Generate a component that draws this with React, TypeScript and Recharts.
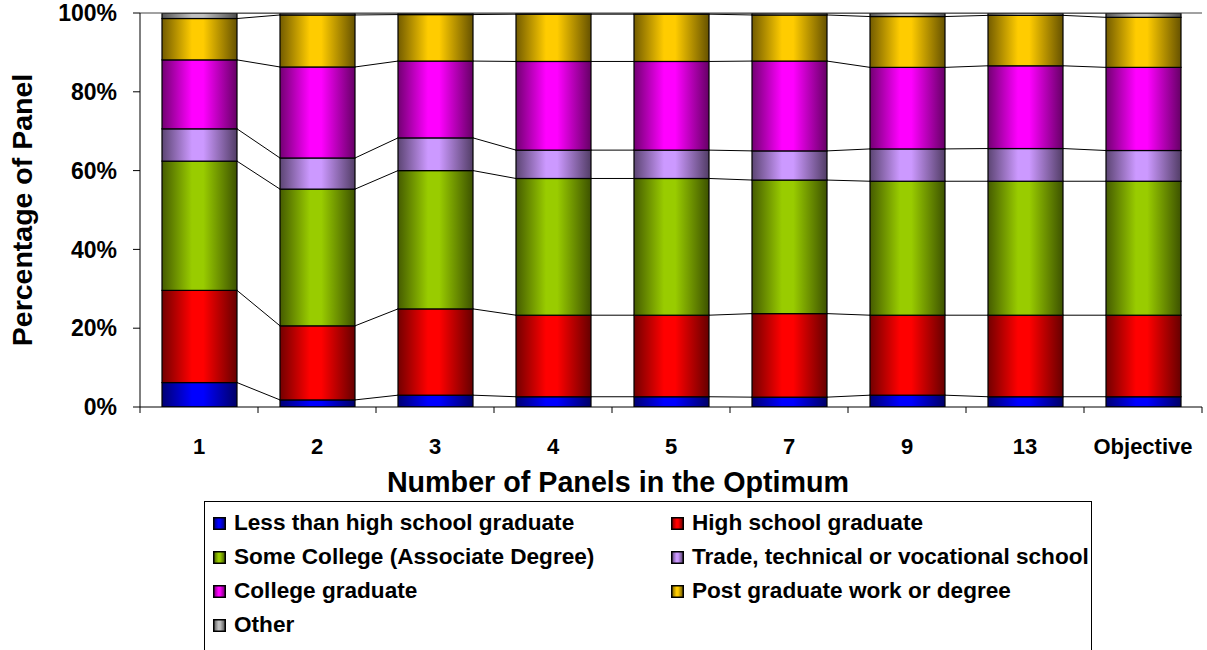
import React from "react";
import { BarChart, Bar, XAxis, YAxis, Legend, ReferenceLine, Label } from "recharts";

const categories = ["1", "2", "3", "4", "5", "7", "9", "13", "Objective"];

const lessThanHighSchool = [6.2, 1.8, 3.0, 2.6, 2.6, 2.5, 3.0, 2.6, 2.6];
const highSchoolGraduate = [23.4, 18.8, 21.9, 20.7, 20.7, 21.2, 20.3, 20.7, 20.7];
const someCollege = [32.8, 34.7, 35.1, 34.7, 34.7, 33.9, 34.0, 34.0, 34.0];
const tradeSchool = [8.2, 7.9, 8.3, 7.2, 7.2, 7.4, 8.2, 8.3, 7.8];
const collegeGraduate = [17.5, 23.1, 19.5, 22.5, 22.5, 22.8, 20.7, 21.0, 21.1];
const postGraduate = [10.5, 13.2, 11.8, 12.0, 12.0, 11.7, 12.9, 12.8, 12.7];
const other = [1.4, 0.5, 0.4, 0.3, 0.3, 0.5, 0.9, 0.6, 1.1];

const seriesNames = [
  "Less than high school graduate",
  "High school graduate",
  "Some College (Associate Degree)",
  "Trade, technical or vocational school",
  "College graduate",
  "Post graduate work or degree",
  "Other",
];
const seriesValues = [
  lessThanHighSchool,
  highSchoolGraduate,
  someCollege,
  tradeSchool,
  collegeGraduate,
  postGraduate,
  other,
];
const seriesColors = ["#0000FF", "#FF0000", "#99CC00", "#CC99FF", "#FF00FF", "#FFCC00", "#C0C0C0"];
const yTicks = [0, 20, 40, 60, 80, 100];

const FONT = "'Liberation Sans', Arial, sans-serif";
const CHART_W = 1207;
const CHART_H = 650;
const MARGIN = { top: 13, right: 5, bottom: 0, left: 0 };
const Y_AXIS_W = 140;
const LEGEND_H = 152;
const X_AXIS_H = 91;
const BAND = (CHART_W - MARGIN.left - MARGIN.right - Y_AXIS_W) / categories.length;
const PLOT_H = CHART_H - MARGIN.top - MARGIN.bottom - LEGEND_H - X_AXIS_H;

const data = categories.map((name, i) => {
  const row: Record<string, number | string> = { name };
  seriesValues.forEach((vals, s) => {
    row[`s${s}`] = vals[i];
  });
  return row;
});

// running totals, used for the connector lines between bars
const cumTops = seriesValues.map((_, s) =>
  categories.map((_, i) => seriesValues.slice(0, s + 1).reduce((a, v) => a + v[i], 0)),
);

const shade = (hex: string, f: number) => {
  const n = parseInt(hex.slice(1), 16);
  const c = [(n >> 16) & 255, (n >> 8) & 255, n & 255].map((v) => Math.round(v * f));
  return `rgb(${c[0]},${c[1]},${c[2]})`;
};

const makeShape = (s: number) => (props: any) => {
  const { x, y, width, height, background } = props;
  let i = props.index;
  if (typeof i !== "number") i = categories.indexOf(props.payload?.name);
  const top = background?.y ?? MARGIN.top;
  const ph = background?.height ?? PLOT_H;
  const toY = (v: number) => top + ph * (1 - v / 100);
  const hasNext = i >= 0 && i + 1 < categories.length;
  return (
    <g>
      <rect
        x={x}
        y={y}
        width={width}
        height={Math.max(height, 0)}
        fill={`url(#grad${s})`}
        stroke="#000"
        strokeWidth={1.2}
      />
      {hasNext && (
        <line
          x1={x + width}
          y1={toY(cumTops[s][i])}
          x2={x + BAND}
          y2={toY(cumTops[s][i + 1])}
          stroke="#000"
          strokeWidth={1}
        />
      )}
    </g>
  );
};

const CategoryTick = (props: any) => {
  const { x, y, payload, index } = props;
  const half = BAND / 2;
  return (
    <g>
      <line x1={x - half} y1={y} x2={x - half} y2={y + 6} stroke="#000" />
      {index === categories.length - 1 && (
        <line x1={x + half} y1={y} x2={x + half} y2={y + 6} stroke="#000" />
      )}
      <text
        x={x}
        y={y + 47}
        textAnchor="middle"
        fontFamily={FONT}
        fontWeight="bold"
        fontSize={22}
        fill="#000"
      >
        {payload.value}
      </text>
    </g>
  );
};

const XTitle = (props: any) => {
  const vb = props.viewBox;
  return (
    <text
      x={vb.x + vb.width / 2 - 53}
      y={vb.y + 85}
      textAnchor="middle"
      fontFamily={FONT}
      fontWeight="bold"
      fontSize={28.7}
      fill="#000"
    >
      Number of Panels in the Optimum
    </text>
  );
};

const YTitle = (props: any) => {
  const vb = props.viewBox;
  const cx = 32;
  const cy = vb.y + vb.height / 2;
  return (
    <text
      x={cx}
      y={cy}
      transform={`rotate(-90 ${cx} ${cy})`}
      textAnchor="middle"
      fontFamily={FONT}
      fontWeight="bold"
      fontSize={28.5}
      fill="#000"
    >
      Percentage of Panel
    </text>
  );
};

const LegendBox = () => (
  <div
    style={{
      boxSizing: "border-box",
      width: 888,
      height: LEGEND_H,
      border: "1px solid #000",
      position: "relative",
      fontFamily: FONT,
      fontWeight: "bold",
      fontSize: 22.6,
      color: "#000",
      background: "#fff",
    }}
  >
    {seriesNames.map((n, s) => {
      const col = s % 2;
      const row = Math.floor(s / 2);
      return (
        <div
          key={n}
          style={{
            position: "absolute",
            left: 8 + col * 458,
            top: 7 + row * 34,
            height: 28,
            display: "flex",
            alignItems: "center",
            whiteSpace: "nowrap",
          }}
        >
          <svg width={13} height={13} style={{ display: "block" }}>
            <rect
              x={0.75}
              y={0.75}
              width={11.5}
              height={11.5}
              fill={`url(#grad${s})`}
              stroke="#000"
              strokeWidth={1.5}
            />
          </svg>
          <span style={{ marginLeft: 8 }}>{n}</span>
        </div>
      );
    })}
  </div>
);

export default function App() {
  return (
    <div
      style={{
        position: "absolute",
        left: 0,
        top: 0,
        width: CHART_W,
        height: CHART_H,
        overflow: "hidden",
        background: "#fff",
      }}
    >
      <BarChart width={CHART_W} height={CHART_H} data={data} margin={MARGIN} barSize={75}>
        <defs>
          {seriesColors.map((c, s) => (
            <linearGradient key={s} id={`grad${s}`} x1="0" y1="0" x2="1" y2="0">
              <stop offset="0%" stopColor={shade(c, 0.45)} />
              <stop offset="40%" stopColor={c} />
              <stop offset="55%" stopColor={c} />
              <stop offset="100%" stopColor={shade(c, 0.4)} />
            </linearGradient>
          ))}
        </defs>
        <XAxis
          dataKey="name"
          interval={0}
          height={X_AXIS_H}
          tickLine={false}
          tickSize={0}
          tickMargin={0}
          tick={<CategoryTick />}
          axisLine={{ stroke: "#000" }}
        >
          <Label content={<XTitle />} />
        </XAxis>
        <YAxis
          width={Y_AXIS_W}
          domain={[0, 100]}
          allowDataOverflow
          ticks={yTicks}
          tickFormatter={(v) => `${v}%`}
          tickSize={7}
          tickMargin={16}
          tick={{ fill: "#000", fontSize: 23, fontWeight: "bold", fontFamily: FONT }}
          tickLine={{ stroke: "#000" }}
          axisLine={{ stroke: "#000" }}
        >
          <Label content={<YTitle />} />
        </YAxis>
        <YAxis
          yAxisId="right"
          orientation="right"
          width={0}
          domain={[0, 100]}
          tick={false}
          tickLine={false}
          axisLine={{ stroke: "#808080" }}
        />
        <ReferenceLine y={100} stroke="#444" strokeWidth={1} />
        <Legend
          verticalAlign="bottom"
          content={() => <LegendBox />}
          wrapperStyle={{ top: 501, left: 204, bottom: "auto", width: 888, height: LEGEND_H }}
        />
        {seriesNames.map((n, s) => (
          <Bar
            key={n}
            dataKey={`s${s}`}
            name={n}
            stackId="a"
            fill={seriesColors[s]}
            shape={makeShape(s)}
            isAnimationActive={false}
          />
        ))}
      </BarChart>
    </div>
  );
}
